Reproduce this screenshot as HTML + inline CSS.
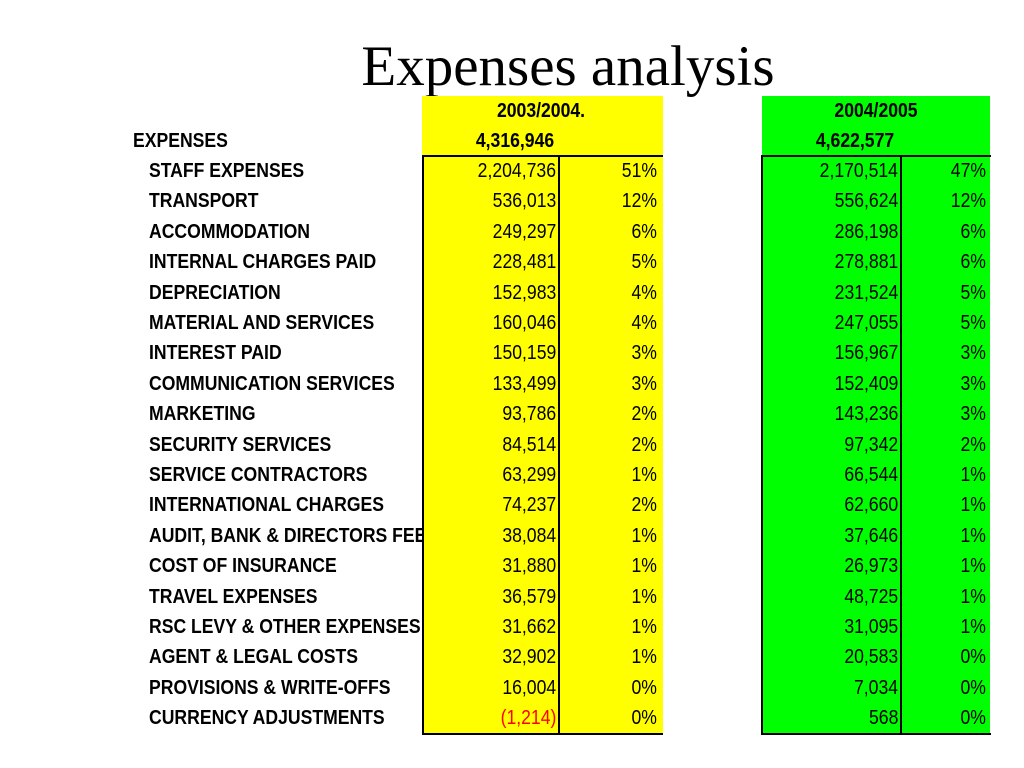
<!DOCTYPE html>
<html><head><meta charset="utf-8"><style>
body{margin:0;width:1024px;height:768px;background:#fff;position:relative;overflow:hidden;font-family:"Liberation Sans",Arial,sans-serif}
.t{position:absolute;white-space:nowrap;font-size:20px;line-height:20px}
.l{transform:scaleX(0.88);transform-origin:left center;font-weight:bold}
.r{transform:scaleX(0.88);transform-origin:right center;text-align:right}
.c{transform:translateX(-50%) scaleX(0.88);font-weight:bold}
.box{position:absolute}
</style></head><body>
<div class="t" style="left:0;width:1136px;text-align:center;top:36px;font-family:'Liberation Serif',serif;font-size:57px;line-height:62px">Expenses analysis</div>
<div class="t l" style="left:133px;top:131px">EXPENSES</div>
<div id="labels"></div>
<div class="box" style="left:422px;top:96px;width:241px;height:638px;background:#ffff00"></div>
<div class="box" style="left:762px;top:96px;width:228px;height:638px;background:#00ff00"></div>
<div class="box" style="left:422px;top:155px;width:239px;height:576px;border-left:2px solid #000;border-top:2px solid #000;border-bottom:2px solid #000"></div>
<div class="box" style="left:558px;top:155px;width:2px;height:578px;background:#000"></div>
<div class="box" style="left:761px;top:155px;width:228px;height:576px;border-left:2px solid #000;border-top:2px solid #000;border-bottom:2px solid #000"></div>
<div class="box" style="left:900px;top:155px;width:2px;height:578px;background:#000"></div>
<div class="t c" style="left:541px;top:101px">2003/2004.</div>
<div class="t c" style="left:515px;top:131px">4,316,946</div>
<div class="t c" style="left:876px;top:101px">2004/2005</div>
<div class="t c" style="left:855px;top:131px">4,622,577</div>
<div id="cells"></div>
<script>
const categories=["STAFF EXPENSES","TRANSPORT","ACCOMMODATION","INTERNAL CHARGES PAID","DEPRECIATION","MATERIAL AND SERVICES","INTEREST PAID","COMMUNICATION SERVICES","MARKETING","SECURITY SERVICES","SERVICE CONTRACTORS","INTERNATIONAL CHARGES","AUDIT, BANK & DIRECTORS FEES","COST OF INSURANCE","TRAVEL EXPENSES","RSC LEVY & OTHER EXPENSES","AGENT & LEGAL COSTS","PROVISIONS & WRITE-OFFS","CURRENCY ADJUSTMENTS"];
const values2003=[2204736,536013,249297,228481,152983,160046,150159,133499,93786,84514,63299,74237,38084,31880,36579,31662,32902,16004,-1214];
const pct2003=["51%","12%","6%","5%","4%","4%","3%","3%","2%","2%","1%","2%","1%","1%","1%","1%","1%","0%","0%"];
const values2004=[2170514,556624,286198,278881,231524,247055,156967,152409,143236,97342,66544,62660,37646,26973,48725,31095,20583,7034,568];
const pct2004=["47%","12%","6%","6%","5%","5%","3%","3%","3%","2%","1%","1%","1%","1%","1%","1%","0%","0%","0%"];
function fmt(v){const s=Math.abs(v).toLocaleString('en-US');return v<0?'('+s+')':s;}
function rowTop(i){return 161+i*30.4;}
const L=document.getElementById('labels'),C=document.getElementById('cells');
categories.forEach((c,i)=>{
 const d=document.createElement('div');d.className='t l';d.style.left='149px';d.style.top=rowTop(i)+'px';d.textContent=c;
 
 
 L.appendChild(d);
 const cols=[[fmt(values2003[i]),556,values2003[i]<0?'#ff0000':'#000'],[pct2003[i],657,'#000'],[fmt(values2004[i]),898,'#000'],[pct2004[i],986,'#000']];
 cols.forEach((k,j)=>{
  const e=document.createElement('div');e.className='t r';e.style.right=(1024-k[1])+'px';e.style.top=rowTop(i)+'px';e.style.color=k[2];e.textContent=k[0];
  
  
  C.appendChild(e);
 });
});
</script>
</body></html>
